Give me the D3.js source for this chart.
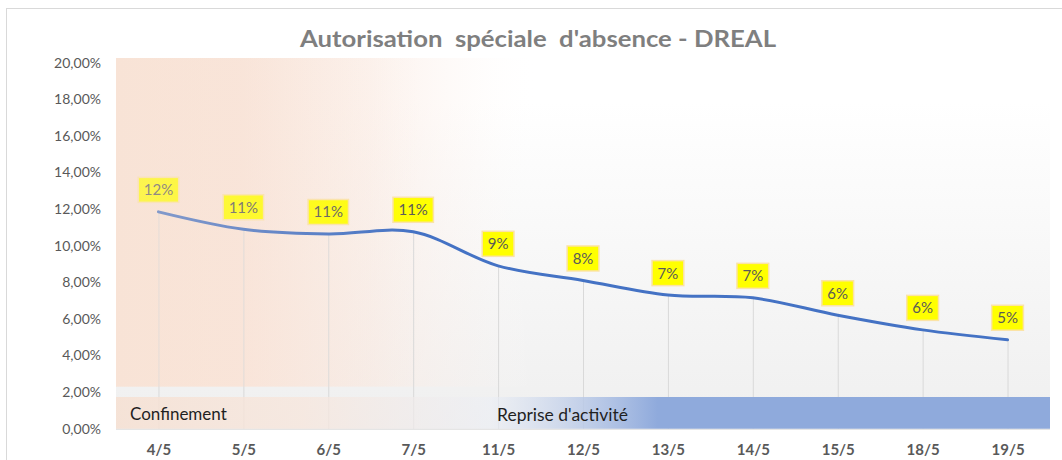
<!DOCTYPE html>
<html>
<head>
<meta charset="utf-8">
<script src="https://cdn.jsdelivr.net/npm/d3@7"></script>
<style>
	html, body { margin: 0; padding: 0; background: #ffffff; }
	svg { display: block; font-family: Lato, "Open Sans", sans-serif; }
</style>
</head>
<body>
<svg id="chart" width="1062" height="460"></svg>
<script>
var dates = ["4/5", "5/5", "6/5", "7/5", "11/5", "12/5", "13/5", "14/5", "15/5", "18/5", "19/5"];
var taux = [0.1185, 0.109, 0.1064, 0.1076, 0.089, 0.081, 0.073, 0.0715, 0.062, 0.054, 0.0486];
var etiquettes = ["12%", "11%", "11%", "11%", "9%", "8%", "7%", "7%", "6%", "6%", "5%"];
var yTicks = [0, 0.02, 0.04, 0.06, 0.08, 0.1, 0.12, 0.14, 0.16, 0.18, 0.2];
var periodes = ["Confinement", "Reprise d'activité"];
var titre = "Autorisation\u00a0 spéciale\u00a0 d'absence - DREAL";


function drawChart() {

	var svg = d3.select('#chart');
	var defs = svg.append('defs');

	var left = 116, right = 1050, top = 58;

	var x = d3.scalePoint()
		.domain(dates)
		.range([left, right])
		.padding(0.5);

	var y = d3.scaleLinear()
		.domain([0, 0.2])
		.range([428.7, 62.7]);

	var fr = d3.formatLocale({decimal: ",", thousands: " ", grouping: [3], currency: ["", " €"]});
	var fmt = fr.format(".2%");

	// cadre du graphique
	svg.append('rect')
		.attr('x', 6.5).attr('y', 8.5)
		.attr('width', 1100).attr('height', 500)
		.attr('fill', '#ffffff')
		.attr('stroke', '#d9d9d9');

	// degrades
	var gVert = defs.append('linearGradient').attr('id', 'fondVert')
		.attr('x1', 0).attr('y1', 0).attr('x2', 0).attr('y2', 1);
	gVert.append('stop').attr('offset', '0.12').attr('stop-color', '#ffffff');
	gVert.append('stop').attr('offset', '1').attr('stop-color', '#efefef');

	var gPeche = defs.append('linearGradient').attr('id', 'fondPeche')
		.attr('gradientUnits', 'userSpaceOnUse')
		.attr('x1', left).attr('y1', 0).attr('x2', 540).attr('y2', 0);
	gPeche.append('stop').attr('offset', '0').attr('stop-color', '#f8e3d6').attr('stop-opacity', 1);
	gPeche.append('stop').attr('offset', '0.3').attr('stop-color', '#f9e5da').attr('stop-opacity', 1);
	gPeche.append('stop').attr('offset', '0.6').attr('stop-color', '#fae9e0').attr('stop-opacity', 0.6);
	gPeche.append('stop').attr('offset', '0.85').attr('stop-color', '#fcf0ea').attr('stop-opacity', 0.18);
	gPeche.append('stop').attr('offset', '1').attr('stop-color', '#ffffff').attr('stop-opacity', 0);

	var gVoile = defs.append('linearGradient').attr('id', 'voile')
		.attr('gradientUnits', 'userSpaceOnUse')
		.attr('x1', left).attr('y1', 0).attr('x2', 420).attr('y2', 0);
	gVoile.append('stop').attr('offset', '0').attr('stop-color', '#f8e3d6').attr('stop-opacity', 0.4);
	gVoile.append('stop').attr('offset', '0.5').attr('stop-color', '#f8e3d6').attr('stop-opacity', 0.2);
	gVoile.append('stop').attr('offset', '1').attr('stop-color', '#f8e3d6').attr('stop-opacity', 0);

	var gBande = defs.append('linearGradient').attr('id', 'bande')
		.attr('gradientUnits', 'userSpaceOnUse')
		.attr('x1', left).attr('y1', 0).attr('x2', right).attr('y2', 0);
	gBande.append('stop').attr('offset', '0').attr('stop-color', '#f6e0d2').attr('stop-opacity', 0.85);
	gBande.append('stop').attr('offset', '0.2').attr('stop-color', '#f7e6dc').attr('stop-opacity', 0.75);
	gBande.append('stop').attr('offset', '0.4').attr('stop-color', '#eceff5').attr('stop-opacity', 0.6);
	gBande.append('stop').attr('offset', '0.58').attr('stop-color', '#8faadc').attr('stop-opacity', 1);
	gBande.append('stop').attr('offset', '1').attr('stop-color', '#8faadc').attr('stop-opacity', 1);


	// fond de la zone de tracé
	svg.append('rect')
		.attr('x', left).attr('y', top)
		.attr('width', right - left).attr('height', y(0) - top)
		.attr('fill', 'url(#fondVert)');

	svg.append('rect')
		.attr('x', left).attr('y', top)
		.attr('width', right - left).attr('height', y(0.023) - top)
		.attr('fill', 'url(#fondPeche)');


	// axe Y
	var yAxis = svg.append('g')
		.attr('transform', 'translate(' + (left - 12) + ',0)')
		.call(d3.axisLeft(y).tickValues(yTicks).tickFormat(fmt).tickSize(0));
	yAxis.select('.domain').remove();
	yAxis.selectAll('text')
		.attr('fill', '#595959')
		.style('font-family', 'Lato, sans-serif')
		.style('font-size', '14px');


	// lignes de projection
	svg.append('g').selectAll('line')
		.data(taux)
		.enter()
		.append('line')
		.attr('x1', function (d, i) { return x(dates[i]) + 0.5; })
		.attr('x2', function (d, i) { return x(dates[i]) + 0.5; })
		.attr('y1', function (d) { return y(d); })
		.attr('y2', y(0))
		.attr('stroke', '#d9d9d9')
		.attr('stroke-width', 1);


	// axe X
	var xAxis = svg.append('g')
		.attr('transform', 'translate(0,' + y(0) + ')')
		.call(d3.axisBottom(x).tickSize(0).tickPadding(16));
	xAxis.select('.domain')
		.attr('d', 'M' + left + ',0.5H' + right)
		.attr('stroke', '#d9d9d9');
	xAxis.selectAll('text')
		.attr('fill', '#595959')
		.style('font-family', 'Lato, sans-serif')
		.style('font-size', '15px')
		.style('font-weight', 'bold');


	// bande des périodes
	svg.append('rect')
		.attr('x', left).attr('y', 397)
		.attr('width', right - left).attr('height', y(0) - 397)
		.attr('fill', 'url(#bande)');

	svg.append('text')
		.attr('x', 130).attr('y', 420)
		.attr('fill', '#1f1f1f')
		.style('font-size', '17px')
		.text(periodes[0]);

	svg.append('text')
		.attr('x', 497).attr('y', 421)
		.attr('fill', '#1f1f1f')
		.style('font-size', '17.5px')
		.text(periodes[1]);


	// courbe
	var line = d3.line()
		.x(function (d, i) { return x(dates[i]); })
		.y(function (d) { return y(d); })
		.curve(d3.curveCatmullRom.alpha(0.5));

	svg.append('path')
		.datum(taux)
		.attr('d', line)
		.attr('fill', 'none')
		.attr('stroke', '#4472c4')
		.attr('stroke-width', 3)
		.attr('stroke-linecap', 'round');


	// étiquettes de données
	var labels = svg.append('g').selectAll('g')
		.data(taux)
		.enter()
		.append('g')
		.attr('transform', function (d, i) {
			return 'translate(' + x(dates[i]) + ',' + (y(d) - 22) + ')';
		});

	labels.append('text')
		.attr('text-anchor', 'middle')
		.attr('dy', '0.36em')
		.attr('fill', '#595959')
		.style('font-size', '15px')
		.text(function (d, i) { return etiquettes[i]; });

	labels.each(function () {
		var g = d3.select(this);
		var w = g.select('text').node().getComputedTextLength() + 11;
		g.insert('rect', 'text')
			.attr('x', -w / 2).attr('y', -12.5)
			.attr('width', w).attr('height', 25)
			.attr('fill', '#ffff00')
			.attr('stroke', '#fbe3a6')
			.attr('stroke-width', 1.5);
	});


	// voile pêche sur la partie gauche
	svg.append('rect')
		.attr('x', left).attr('y', top)
		.attr('width', 320).attr('height', y(0.023) - top)
		.attr('fill', 'url(#voile)');


	// titre
	svg.append('text')
		.attr('x', 538).attr('y', 47)
		.attr('text-anchor', 'middle')
		.attr('fill', '#7f7f7f')
		.attr('textLength', 476)
		.attr('lengthAdjust', 'spacingAndGlyphs')
		.style('font-size', '22px')
		.style('font-weight', 'bold')
		.text(titre);
}

drawChart();
</script>
</body>
</html>
